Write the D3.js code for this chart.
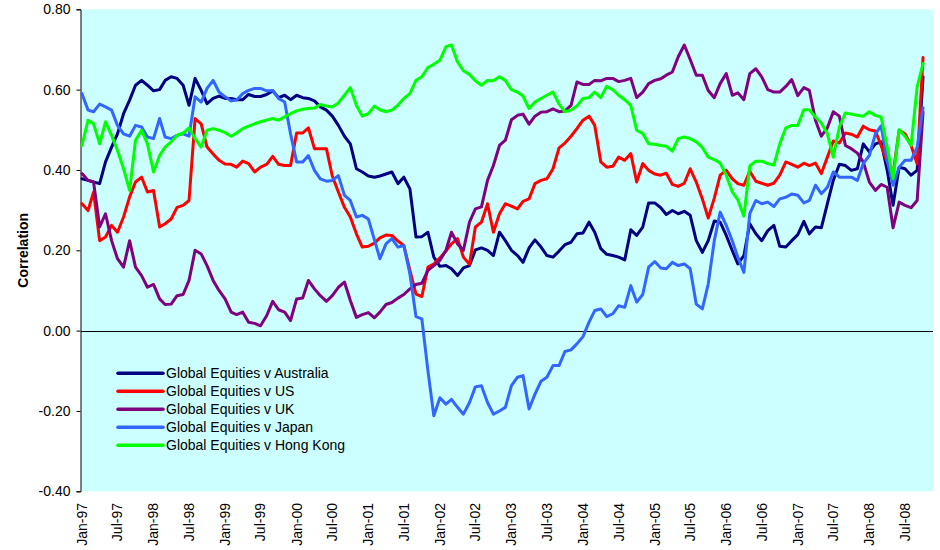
<!DOCTYPE html>
<html>
<head>
<meta charset="utf-8">
<script src="https://cdn.jsdelivr.net/npm/d3@7/dist/d3.min.js"></script>
<style>
  body { margin: 0; background: #ffffff; }
  svg { font-family: "Liberation Sans", Arial, sans-serif; }
</style>
</head>
<body>
<svg width="940" height="550"></svg>
<script>
// monthly observations, Jan-97 .. Oct-08
let months = d3.timeMonth.range(new Date(1997, 0, 1), new Date(2008, 9, 2));

let australia = [
  0.378, 0.374, 0.370, 0.366, 0.42, 0.457, 0.49, 0.54, 0.574, 0.611, 0.623, 0.611, 0.597, 0.60, 0.623, 0.632, 0.628, 0.611, 0.561, 0.628, 0.598, 0.565, 0.578, 0.584, 0.578,
  0.578, 0.575, 0.575, 0.588, 0.583, 0.583, 0.588, 0.597, 0.58, 0.586, 0.575, 0.586, 0.58, 0.578, 0.572, 0.557, 0.549, 0.534, 0.511, 0.484, 0.465, 0.403, 0.395, 0.385,
  0.382, 0.385, 0.39, 0.395, 0.366, 0.382, 0.353, 0.233, 0.234, 0.245, 0.183, 0.16, 0.162, 0.154, 0.137, 0.156, 0.162, 0.201, 0.206, 0.2, 0.187, 0.245, 0.224, 0.2,
  0.187, 0.17, 0.206, 0.226, 0.208, 0.187, 0.183, 0.198, 0.214, 0.22, 0.241, 0.243, 0.27, 0.245, 0.204, 0.19, 0.187, 0.183, 0.176, 0.251, 0.237, 0.258, 0.318, 0.318,
  0.306, 0.289, 0.299, 0.291, 0.297, 0.287, 0.224, 0.195, 0.224, 0.273, 0.27, 0.237, 0.199, 0.166, 0.187, 0.266, 0.241, 0.224, 0.249, 0.262, 0.21, 0.208,
  0.224, 0.239, 0.272, 0.241, 0.258, 0.256, 0.316, 0.374, 0.414, 0.411, 0.399, 0.403, 0.465, 0.445, 0.465, 0.47, 0.399, 0.312, 0.407, 0.403, 0.387, 0.399, 0.632
];
let us = [
  0.316, 0.299, 0.345, 0.224, 0.233, 0.262, 0.245, 0.283, 0.333, 0.37, 0.382, 0.345, 0.349, 0.258, 0.266, 0.278, 0.307, 0.312, 0.324, 0.528, 0.515, 0.457, 0.44, 0.424, 0.415,
  0.414, 0.407, 0.422, 0.416, 0.395, 0.407, 0.414, 0.434, 0.414, 0.411, 0.411, 0.492, 0.492, 0.505, 0.453, 0.453, 0.453, 0.385, 0.345, 0.307, 0.283, 0.241, 0.208, 0.21,
  0.218, 0.231, 0.238, 0.237, 0.223, 0.212, 0.15, 0.091, 0.085, 0.158, 0.166, 0.181, 0.198, 0.216, 0.229, 0.183, 0.165, 0.258, 0.27, 0.316, 0.245, 0.291, 0.316, 0.31,
  0.303, 0.322, 0.328, 0.366, 0.374, 0.378, 0.403, 0.455, 0.467, 0.484, 0.503, 0.524, 0.534, 0.511, 0.42, 0.407, 0.409, 0.432, 0.424, 0.441, 0.37, 0.416, 0.399, 0.39,
  0.387, 0.392, 0.364, 0.359, 0.367, 0.403, 0.37, 0.328, 0.28, 0.33, 0.387, 0.399, 0.378, 0.366, 0.362, 0.397, 0.372, 0.367, 0.362, 0.367, 0.387, 0.42,
  0.414, 0.407, 0.417, 0.411, 0.417, 0.391, 0.432, 0.472, 0.467, 0.492, 0.489, 0.482, 0.509, 0.5, 0.497, 0.461, 0.42, 0.39, 0.499, 0.49, 0.461, 0.415, 0.68
];
let uk = [
  0.391, 0.374, 0.37, 0.258, 0.291, 0.224, 0.179, 0.158, 0.224, 0.158, 0.137, 0.108, 0.115, 0.079, 0.065, 0.066, 0.087, 0.09, 0.125, 0.2, 0.191, 0.162, 0.125, 0.1, 0.079,
  0.046, 0.04, 0.046, 0.021, 0.018, 0.012, 0.037, 0.073, 0.052, 0.046, 0.025, 0.079, 0.081, 0.125, 0.104, 0.087, 0.073, 0.087, 0.108, 0.121, 0.075, 0.033, 0.04, 0.045,
  0.032, 0.046, 0.065, 0.07, 0.081, 0.09, 0.104, 0.115, 0.118, 0.15, 0.162, 0.175, 0.2, 0.245, 0.216, 0.2, 0.27, 0.303, 0.308, 0.374, 0.411, 0.461, 0.474, 0.525,
  0.536, 0.539, 0.514, 0.534, 0.544, 0.545, 0.552, 0.545, 0.547, 0.561, 0.619, 0.613, 0.613, 0.623, 0.622, 0.628, 0.628, 0.62, 0.623, 0.628, 0.58, 0.594, 0.615, 0.623,
  0.627, 0.636, 0.644, 0.682, 0.711, 0.675, 0.636, 0.636, 0.598, 0.58, 0.615, 0.64, 0.586, 0.592, 0.575, 0.64, 0.652, 0.632, 0.6, 0.594, 0.594, 0.608,
  0.625, 0.585, 0.605, 0.598, 0.524, 0.484, 0.505, 0.545, 0.534, 0.461, 0.453, 0.442, 0.42, 0.37, 0.349, 0.364, 0.357, 0.256, 0.32, 0.312, 0.306, 0.324, 0.545
];
let japan = [
  0.59, 0.549, 0.545, 0.564, 0.557, 0.549, 0.511, 0.49, 0.484, 0.511, 0.507, 0.482, 0.478, 0.528, 0.482, 0.478, 0.486, 0.49, 0.484, 0.582, 0.569, 0.603, 0.623, 0.594, 0.582,
  0.572, 0.574, 0.59, 0.598, 0.603, 0.603, 0.597, 0.598, 0.578, 0.569, 0.49, 0.42, 0.42, 0.436, 0.399, 0.378, 0.372, 0.374, 0.386, 0.337, 0.324, 0.283, 0.287, 0.278,
  0.226, 0.179, 0.216, 0.229, 0.208, 0.212, 0.141, 0.035, 0.029, -0.1, -0.212, -0.167, -0.183, -0.171, -0.191, -0.208, -0.179, -0.14, -0.137, -0.179, -0.208, -0.2, -0.191, -0.137,
  -0.116, -0.112, -0.195, -0.158, -0.126, -0.116, -0.087, -0.087, -0.052, -0.048, -0.033, -0.015, 0.021, 0.05, 0.054, 0.035, 0.042, 0.062, 0.058, 0.112, 0.071, 0.09, 0.158, 0.172,
  0.156, 0.154, 0.17, 0.162, 0.166, 0.154, 0.066, 0.054, 0.116, 0.224, 0.295, 0.262, 0.223, 0.183, 0.145, 0.291, 0.324, 0.316, 0.32, 0.309, 0.328, 0.332,
  0.34, 0.337, 0.318, 0.324, 0.362, 0.341, 0.357, 0.395, 0.382, 0.382, 0.382, 0.374, 0.416, 0.436, 0.49, 0.51, 0.424, 0.362, 0.407, 0.424, 0.424, 0.457, 0.555
];
let hongKong = [
  0.461, 0.524, 0.515, 0.465, 0.52, 0.486, 0.449, 0.403, 0.349, 0.474, 0.499, 0.465, 0.395, 0.436, 0.457, 0.47, 0.486, 0.492, 0.505, 0.478, 0.457, 0.499, 0.503, 0.499, 0.493,
  0.484, 0.492, 0.503, 0.509, 0.515, 0.52, 0.524, 0.528, 0.524, 0.532, 0.54, 0.547, 0.551, 0.553, 0.554, 0.563, 0.559, 0.557, 0.567, 0.586, 0.605, 0.561, 0.534, 0.54,
  0.559, 0.55, 0.545, 0.549, 0.561, 0.578, 0.59, 0.623, 0.632, 0.655, 0.663, 0.673, 0.707, 0.711, 0.669, 0.647, 0.638, 0.622, 0.611, 0.623, 0.622, 0.632, 0.623, 0.6,
  0.594, 0.584, 0.553, 0.569, 0.578, 0.586, 0.594, 0.564, 0.545, 0.549, 0.559, 0.578, 0.58, 0.594, 0.58, 0.608, 0.6, 0.586, 0.575, 0.561, 0.499, 0.491, 0.465, 0.464,
  0.461, 0.459, 0.447, 0.478, 0.482, 0.478, 0.47, 0.456, 0.432, 0.426, 0.417, 0.387, 0.345, 0.326, 0.285, 0.41, 0.422, 0.422, 0.416, 0.412, 0.465, 0.505,
  0.511, 0.511, 0.55, 0.55, 0.532, 0.517, 0.49, 0.432, 0.507, 0.542, 0.539, 0.536, 0.534, 0.545, 0.536, 0.532, 0.457, 0.378, 0.5, 0.484, 0.461, 0.607, 0.665
];

let seriesNames = ["Global Equities v Australia", "Global Equities v US", "Global Equities v UK",
                   "Global Equities v Japan", "Global Equities v Hong Kong"];
let seriesValues = [australia, us, uk, japan, hongKong];
let seriesColors = ["#000080", "#FF0000", "#800080", "#3366FF", "#00FF00"];

let yTicks = [-0.4, -0.2, 0, 0.2, 0.4, 0.6, 0.8];
let xTicks = d3.timeMonth.every(6).range(new Date(1997, 0, 1), new Date(2008, 7, 1));

let svg = d3.select("svg");

// plot area edges
let plotLeft = 81, plotRight = 933, plotTop = 9.3, plotBottom = 491.3;

let x = d3.scaleTime()
    .domain([new Date(1997, 0, 1), new Date(2008, 11, 1)])
    .range([82, 935]);

let y = d3.scaleLinear()
    .domain([-0.4, 0.8])
    .range([plotBottom, plotTop]);

// background
svg.append("rect")
    .attr("x", plotLeft)
    .attr("y", plotTop)
    .attr("width", plotRight - plotLeft)
    .attr("height", plotBottom - plotTop)
    .attr("fill", "#CCFFFF");

// zero line (category axis)
svg.append("line")
    .attr("x1", plotLeft)
    .attr("x2", plotRight)
    .attr("y1", Math.round(y(0)) + 0.5)
    .attr("y2", Math.round(y(0)) + 0.5)
    .attr("stroke", "#000")
    .attr("stroke-width", 1);

// y axis
let yAxis = svg.append("g")
    .attr("transform", "translate(80.5,0)")
    .call(d3.axisLeft(y)
        .tickValues(yTicks)
        .tickSize(4)
        .tickPadding(6)
        .tickFormat(d => d.toFixed(2)));
yAxis.select(".domain").attr("stroke", "#000");
yAxis.selectAll("text")
    .style("font-size", "14px")
    .style("font-family", "'Liberation Sans', Arial, sans-serif")
    .attr("fill", "#000");

// x labels
svg.append("g")
    .selectAll("text")
    .data(xTicks)
    .enter()
    .append("text")
    .attr("transform", d => "translate(" + x(d) + ",503) rotate(-90)")
    .attr("dy", "0.35em")
    .attr("text-anchor", "end")
    .style("font-size", "14px")
    .text(d => d3.timeFormat("%b-%y")(d));

// y title
svg.append("text")
    .attr("transform", "translate(28," + ((plotTop + plotBottom) / 2) + ") rotate(-90)")
    .attr("text-anchor", "middle")
    .style("font-size", "14px")
    .style("font-weight", "bold")
    .text("Correlation");

// lines
let line = d3.line()
    .x((d, i) => x(months[i]))
    .y(d => y(d));

svg.append("g")
    .selectAll("path")
    .data(seriesValues)
    .enter()
    .append("path")
    .attr("d", d => line(d))
    .attr("fill", "none")
    .attr("stroke", (d, i) => seriesColors[i])
    .attr("stroke-width", 3)
    .attr("stroke-linejoin", "round")
    .attr("stroke-linecap", "round");

// legend
let legend = svg.append("g")
    .selectAll("g")
    .data(seriesNames)
    .enter()
    .append("g")
    .attr("transform", (d, i) => "translate(118," + (373.3 + i * 18) + ")");

legend.append("line")
    .attr("x1", 0)
    .attr("x2", 45)
    .attr("stroke", (d, i) => seriesColors[i])
    .attr("stroke-width", 3.5)
    .attr("stroke-linecap", "round");

legend.append("text")
    .attr("x", 48)
    .attr("dy", "0.35em")
    .style("font-size", "14px")
    .text(d => d);
</script>
</body>
</html>
